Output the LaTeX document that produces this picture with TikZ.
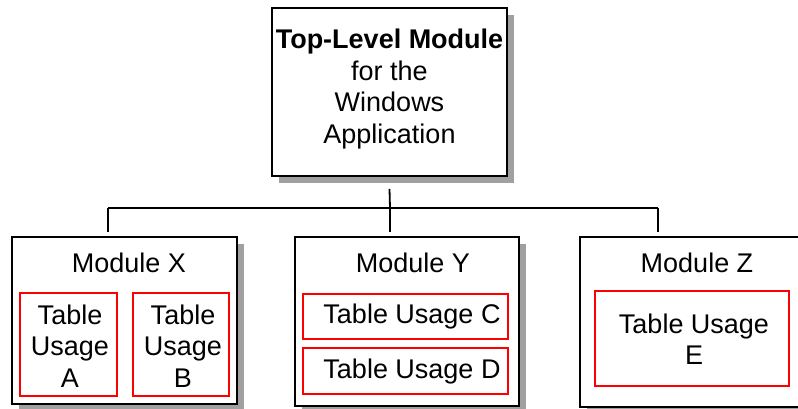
\documentclass[tikz,border=0pt]{standalone}
\usepackage{fontspec}
\setmainfont{Liberation Sans}
\usetikzlibrary{shadows}
\definecolor{shadowgray}{HTML}{A0A0A0}
\definecolor{tblred}{HTML}{FF0000}
\begin{document}
\begin{tikzpicture}[x=1pt,y=-1pt,
  modbox/.style={draw=black,line width=1.8pt,fill=white,inner sep=0pt,
    drop shadow={shadow xshift=7pt,shadow yshift=-7pt,fill=shadowgray,opacity=1}},
  tblbox/.style={draw=tblred,line width=1.4pt,inner sep=0pt},
  txt/.style={font=\fontsize{27}{31.5}\selectfont,align=center,inner sep=0pt},
  conn/.style={line width=1.8pt,black}]
\useasboundingbox (0,0) rectangle (798,409);
\fill[white] (0,0) rectangle (798,409);
% boxes
\node[modbox,minimum width=235pt,minimum height=168pt] (top) at (389.5,92) {};
\node[modbox,minimum width=225pt,minimum height=167pt] (mx) at (124.5,320.5) {};
\node[modbox,minimum width=224pt,minimum height=169pt] (my) at (407,321.5) {};
\node[modbox,minimum width=240pt,minimum height=170pt] (mz) at (700,322) {};
% table usage boxes
\node[tblbox,minimum width=97pt,minimum height=103pt] (ta) at (68.5,344.5) {};
\node[tblbox,minimum width=96pt,minimum height=103pt] (tb) at (181,344.5) {};
\node[tblbox,minimum width=205pt,minimum height=45pt] (tc) at (405.5,316.5) {};
\node[tblbox,minimum width=205pt,minimum height=46pt] (td) at (405.5,371) {};
\node[tblbox,minimum width=194pt,minimum height=95pt] (te) at (692,338.5) {};
% texts
\node[txt] (toptxt) at (389.5,89) {\textbf{Top-Level Module}\\for the\\Windows\\Application};
\node[txt] (mxt) at (129,263) {Module X};
\node[txt] (myt) at (413,263) {Module Y};
\node[txt] (mzt) at (697,263) {Module Z};
\node[txt] (tat) at (70,346) {Table\\Usage\\A};
\node[txt] (tbt) at (183,346) {Table\\Usage\\B};
\node[txt] (tct) at (412,317) {Table Usage C};
\node[txt] (tdt) at (412,372) {Table Usage D};
\node[txt] (tet) at (694,339) {Table Usage\\E};
% connectors
\coordinate (j) at (390,208);
\coordinate (jx) at (108,208);
\coordinate (jz) at (658,208);
\draw[conn] ([yshift=-12pt]top.south) -- (j);
\draw[conn] (jx) -- (jz);
\draw[conn] (jx) -- ([yshift=4pt]jx |- mx.north);
\draw[conn] (j) -- ([yshift=4pt]j |- my.north);
\draw[conn] (jz) -- ([yshift=4pt]jz |- mz.north);
\end{tikzpicture}
\end{document}
